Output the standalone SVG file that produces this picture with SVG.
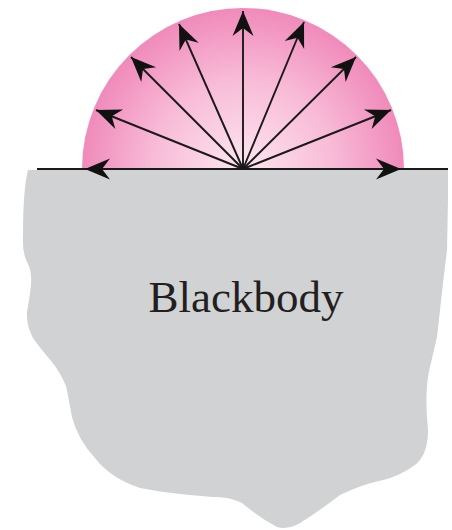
<svg xmlns="http://www.w3.org/2000/svg" width="452" height="530" viewBox="0 0 452 530">
<style>
.ray{stroke:#1a1a1a;stroke-width:1.9;fill:none;marker-end:url(#ah)}
.lbl{font-family:"Liberation Serif","Times New Roman",serif;font-size:45px;fill:#231f20}
</style>
<defs>
<radialGradient id="pink" gradientUnits="userSpaceOnUse" cx="243" cy="169" r="161">
<stop offset="0" stop-color="#fde6f0"/>
<stop offset="0.55" stop-color="#f8bcd8"/>
<stop offset="1" stop-color="#f08aba"/>
</radialGradient>
<marker id="ah" markerUnits="userSpaceOnUse" viewBox="-27 -12 29 24" refX="0" refY="0" markerWidth="29" markerHeight="24" orient="auto">
<path d="M0,0 L-25,-10.5 L-17,0 L-25,10.5 Z" fill="#111"/>
</marker>
</defs>
<g id="blackbody">
<path d="M28,170 L448,170 L448,200 L447,250 L443,283 L437,337 L430,367 Q424,390 428,430 Q428,455 415,465 Q400,476 383,480 Q360,485 340,495 Q318,512 300,523 Q288,530 277,527 Q260,518 242,503 Q228,496 213,497 Q170,494 140,488 Q110,478 95,458 Q78,440 72,417 Q68,395 66,386 Q60,372 52,362 Q40,348 33,338 Q26,325 27,312 Q30,295 31,285 Q32,270 27,262 Q22,252 23,235 Q23,190 28,170 Z" fill="#d1d2d4"/>
<text class="lbl" x="246" y="312" text-anchor="middle">Blackbody</text>
</g>
<g id="hemisphere">
<path d="M82,169 A161,161 0 0 1 404,169 Z" fill="url(#pink)"/>
</g>
<g id="connectors">
<line x1="37" y1="169" x2="448" y2="169" stroke="#1a1a1a" stroke-width="2"/>
<line class="ray" x1="243" y1="169" x2="85" y2="169"/>
<line class="ray" x1="243" y1="169" x2="96" y2="110"/>
<line class="ray" x1="243" y1="169" x2="131" y2="57"/>
<line class="ray" x1="243" y1="169" x2="179" y2="24"/>
<line class="ray" x1="243" y1="169" x2="243" y2="11"/>
<line class="ray" x1="243" y1="169" x2="304" y2="22"/>
<line class="ray" x1="243" y1="169" x2="356" y2="57"/>
<line class="ray" x1="243" y1="169" x2="391" y2="110"/>
<line class="ray" x1="243" y1="169" x2="401" y2="169"/>
</g>
</svg>
